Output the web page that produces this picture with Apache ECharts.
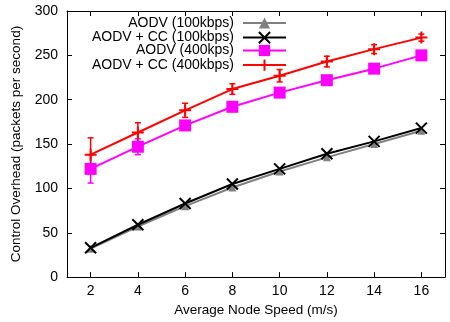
<!DOCTYPE html>
<html><head><meta charset="utf-8">
<script src="https://cdn.jsdelivr.net/npm/echarts@6/dist/echarts.min.js"></script>
<style>html,body{margin:0;padding:0;background:#fff}#c{width:450px;height:322px}</style>
</head><body><div id="c"></div>
<script>
const speeds = [2, 4, 6, 8, 10, 12, 14, 16];
const aodv100 = [32, 57, 80, 101, 119, 135, 150, 165];
const aodvcc100 = [33, 59, 83, 105, 122, 139, 153, 168];
const aodv400 = [122, 147, 171, 192, 208, 222, 235, 250];
const aodvcc400 = [138, 163, 188, 212, 227, 243, 257, 270];
const err400 = [16, 9, 5, 3, 3, 3, 3, 3];
const errcc400 = [19, 11, 8, 6, 7, 6, 5, 4];
const yTicks = [0, 50, 100, 150, 200, 250, 300];
const names = ['AODV (100kbps)', 'AODV + CC (100kbps)', 'AODV (400kps)', 'AODV + CC (400kbps)'];

const FONT = 'Liberation Sans, Arial, Helvetica, sans-serif';
const pts = arr => speeds.map((s, i) => [s, arr[i]]);
const errPts = (arr, e) => speeds.map((s, i) => [s, arr[i] - e[i], arr[i] + e[i]]);

function errSeries(data, color) {
  return {
    type: 'custom', data: data, z: 1, silent: true,
    renderItem: function (params, api) {
      const x = api.value(0);
      const p1 = api.coord([x, api.value(1)]);
      const p2 = api.coord([x, api.value(2)]);
      const w = 3;
      const st = { stroke: color, lineWidth: 1.5 };
      return { type: 'group', children: [
        { type: 'line', shape: { x1: p1[0], y1: p1[1], x2: p2[0], y2: p2[1] }, style: st },
        { type: 'line', shape: { x1: p1[0] - w, y1: p1[1], x2: p1[0] + w, y2: p1[1] }, style: st },
        { type: 'line', shape: { x1: p2[0] - w, y1: p2[1], x2: p2[0] + w, y2: p2[1] }, style: st }
      ]};
    }
  };
}

function lineSeries(name, data, color, symbol, size, filled) {
  return {
    name: name, type: 'line', data: data, symbol: symbol, symbolSize: size,
    showAllSymbol: true, z: 3,
    lineStyle: { color: color, width: 2 },
    itemStyle: filled ? { color: color, borderWidth: 0 } : { color: 'none', borderColor: color, borderWidth: 2 },
    emphasis: { disabled: true }
  };
}

const legendTops = [16, 29.5, 43.5, 57];
const legends = names.map((n, i) => ({
  data: [n], right: 163, top: legendTops[i], orient: 'vertical', align: 'right', padding: 0,
  itemWidth: 43, itemHeight: 14, selectedMode: false,
  textStyle: { fontFamily: FONT, fontSize: 14, color: '#000', padding: [0, 4, 0, 0] }
}));

const chart = echarts.init(document.getElementById('c'));
chart.setOption({
  animation: false,
  backgroundColor: '#fff',
  grid: { left: 67, right: 5, top: 11, bottom: 40 },
  legend: legends,
  xAxis: [{
    type: 'value', min: 1, max: 17, position: 'bottom',
    name: 'Average Node Speed (m/s)', nameLocation: 'middle', nameGap: 22,
    nameTextStyle: { fontFamily: FONT, fontSize: 13.5, color: '#000' },
    axisLine: { show: true, onZero: false, lineStyle: { color: '#000', width: 1 } },
    axisTick: { show: true, inside: true, length: 5, customValues: speeds, lineStyle: { color: '#000' } },
    axisLabel: { customValues: speeds, fontFamily: FONT, fontSize: 14, color: '#000', margin: 7 },
    splitLine: { show: false }
  }, {
    type: 'value', min: 1, max: 17, position: 'top',
    axisLine: { show: true, onZero: false, lineStyle: { color: '#000', width: 1 } },
    axisTick: { show: true, inside: true, length: 5, customValues: speeds, lineStyle: { color: '#000' } },
    axisLabel: { show: false }, splitLine: { show: false }
  }],
  yAxis: [{
    type: 'value', min: 0, max: 300, interval: 50, position: 'left',
    name: 'Control Overhead (packets per second)', nameLocation: 'middle', nameGap: 35,
    nameTextStyle: { fontFamily: FONT, fontSize: 13.5, color: '#000' },
    axisLine: { show: true, onZero: false, lineStyle: { color: '#000', width: 1 } },
    axisTick: { show: true, inside: true, length: 5, customValues: yTicks, lineStyle: { color: '#000' } },
    axisLabel: { customValues: yTicks, fontFamily: FONT, fontSize: 14, color: '#000', margin: 9 },
    splitLine: { show: false }
  }, {
    type: 'value', min: 0, max: 300, interval: 50, position: 'right',
    axisLine: { show: true, onZero: false, lineStyle: { color: '#000', width: 1 } },
    axisTick: { show: true, inside: true, length: 5, customValues: yTicks, lineStyle: { color: '#000' } },
    axisLabel: { show: false }, splitLine: { show: false }
  }],
  series: [
    lineSeries(names[0], pts(aodv100), '#808080', 'triangle', 8, true),
    lineSeries(names[1], pts(aodvcc100), '#000000', 'path://M0,0L10,10M10,0L0,10', 11, false),
    errSeries(errPts(aodv400, err400), '#ff00ff'),
    lineSeries(names[2], pts(aodv400), '#ff00ff', 'rect', 12, true),
    errSeries(errPts(aodvcc400, errcc400), '#ff0000'),
    lineSeries(names[3], pts(aodvcc400), '#ff0000', 'path://M5,0L5,10M0,5L10,5', 12, false)
  ]
});
</script></body></html>
